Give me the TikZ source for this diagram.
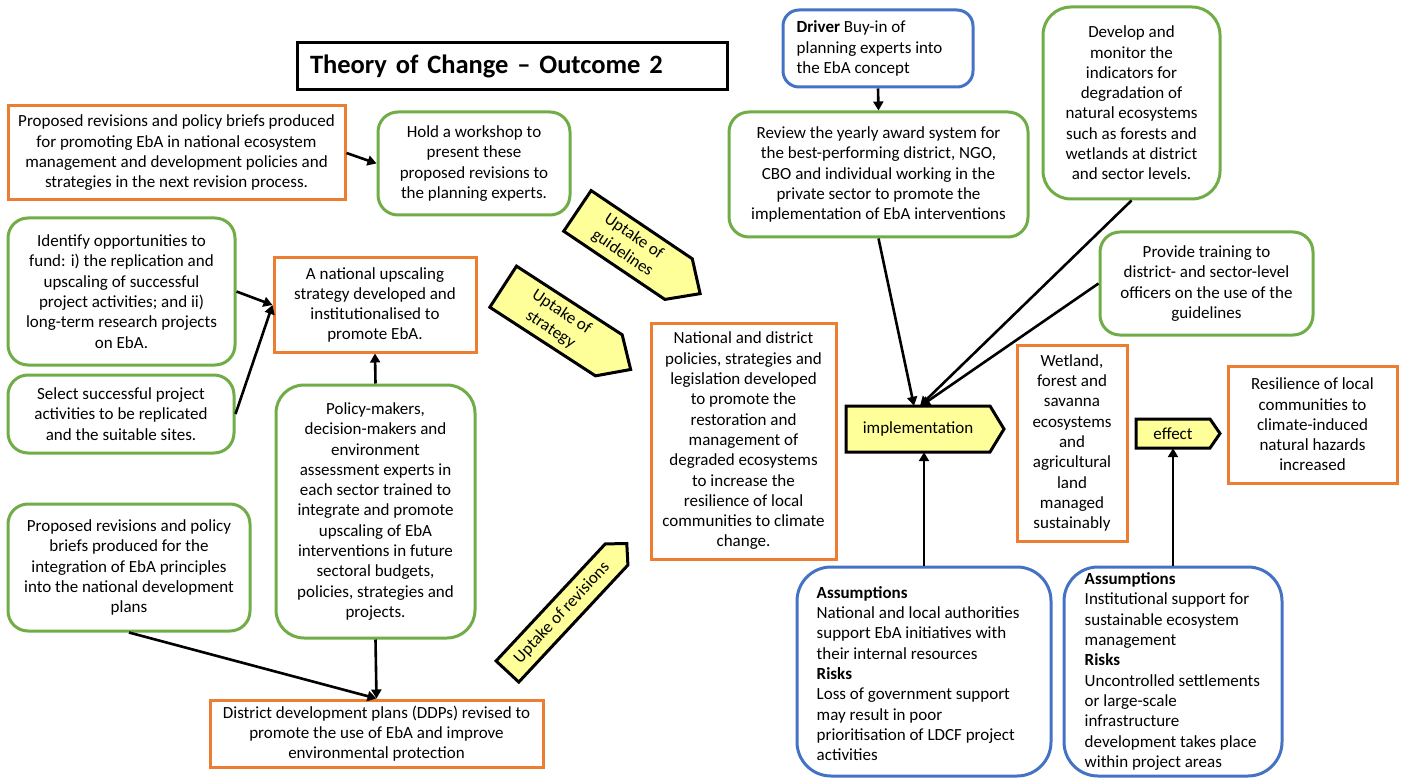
\documentclass[tikz,border=0pt]{standalone}
\usepackage{fontspec}
\setmainfont{Carlito}
\usetikzlibrary{arrows.meta,calc}

\definecolor{boxorange}{RGB}{237,125,49}
\definecolor{boxgreen}{RGB}{112,173,71}
\definecolor{boxblue}{RGB}{68,114,196}
\definecolor{sigyellow}{RGB}{255,255,153}

% rotated yellow "uptake" pointer: name, centre x, centre y, angle, body length, width, tip length, text
\newcommand\drawuptake[8]{%
  \begin{scope}[shift={(#2,#3)}, rotate=#4]
    \filldraw[sigshape] ({-0.5*#5pt},{0.5*#6pt}) -- ({0.5*#5pt},{0.5*#6pt})
      -- ({0.5*#5pt+#7pt},0pt) -- ({0.5*#5pt},{-0.5*#6pt})
      -- ({-0.5*#5pt},{-0.5*#6pt}) -- cycle;
    \node[txt, transform shape] (#1) at (0pt,0pt) {#8};
  \end{scope}}

\begin{document}
\begin{tikzpicture}[x=1pt,y=-1pt,
  txt/.style={font=\fontsize{17}{20.3}\selectfont, align=center, inner sep=0pt},
  box/.style={txt, line width=3pt, fill=white},
  outcome/.style={box, draw=boxorange},
  activity/.style={box, draw=boxgreen, rounded corners=20pt},
  context/.style={box, draw=boxblue, rounded corners=28pt},
  sigshape/.style={fill=sigyellow, draw=black, line width=3pt, line join=miter},
  flow/.style={line width=2.6pt, -{Triangle[length=9pt,width=10pt]}},
]
\useasboundingbox (0,0) rectangle (1404,783);
\fill[white] (0,0) rectangle (1404,783);

% title
\node[draw=black, line width=3pt, minimum width=430pt, minimum height=47pt,
      inner xsep=13pt, text width=404pt, align=left,
      font=\fontsize{26.5}{30}\selectfont\bfseries] (title) at (512,66.5)
      {Theory of Change -- Outcome 2};

% left half
\node[outcome, minimum width=337pt, minimum height=94pt] (A) at (176.5,153)
  {Proposed revisions and policy briefs produced\\for promoting EbA in national ecosystem\\management and development policies and\\strategies in the next revision process.};
\node[activity, minimum width=192pt, minimum height=103pt] (B) at (474,163.5)
  {Hold a workshop to\\present these\\proposed revisions to\\the planning experts.};
\node[activity, minimum width=227pt, minimum height=147pt] (C) at (121.5,291.5)
  {Identify opportunities to\\fund: i) the replication and\\upscaling of successful\\project activities; and ii)\\long-term research projects\\on EbA.};
\node[outcome, minimum width=202pt, minimum height=94pt] (D) at (375,305)
  {A national upscaling\\strategy developed and\\institutionalised to\\promote EbA.};
\node[activity, minimum width=226pt, minimum height=78pt] (E) at (121,414)
  {Select successful project\\activities to be replicated\\and the suitable sites.};
\node[activity, minimum width=199pt, minimum height=253pt, rounded corners=28pt] (F) at (375.5,511.5)
  {Policy-makers,\\decision-makers and\\environment\\assessment experts in\\each sector trained to\\integrate and promote\\upscaling of EbA\\interventions in future\\sectoral budgets,\\policies, strategies and\\projects.};
\node[activity, minimum width=242pt, minimum height=127pt] (G) at (129,567.5)
  {Proposed revisions and policy\\briefs produced for the\\integration of EbA principles\\into the national development\\plans};
\node[outcome, minimum width=333pt, minimum height=67pt] (H) at (376.5,733.5)
  {District development plans (DDPs) revised to\\promote the use of EbA and improve\\environmental protection};
\node[outcome, minimum width=185pt, minimum height=236pt] (I) at (743.5,441)
  {National and district\\policies, strategies and\\legislation developed\\to promote the\\restoration and\\management of\\degraded ecosystems\\to increase the\\resilience of local\\communities to climate\\change.};

% uptake pointers
\drawuptake{upguide}{628}{245}{-34}{122}{49}{26}{Uptake of\\guidelines}
\drawuptake{upstrat}{556}{321}{-33}{126}{49}{26}{Uptake of\\strategy}
\drawuptake{uprevis}{562}{613}{47}{160}{31}{15}{Uptake of revisions}

% right half
\node[context, minimum width=190pt, minimum height=77pt, rounded corners=16pt] (J) at (878,48.5) {};
\node[txt, anchor=west, align=left] (Jtext) at ($(J.west)+(15,0)$)
  {\textbf{Driver} Buy-in of\\planning experts into\\the EbA concept};
\node[activity, minimum width=299pt, minimum height=125pt] (K) at (878.5,174.5)
  {Review the yearly award system for\\the best-performing district, NGO,\\CBO and individual working in the\\private sector to promote the\\implementation of EbA interventions};
\node[activity, minimum width=177pt, minimum height=192pt, rounded corners=28pt] (L) at (1131.5,103)
  {Develop and\\monitor the\\indicators for\\degradation of\\natural ecosystems\\such as forests and\\wetlands at district\\and sector levels.};
\node[activity, minimum width=213pt, minimum height=103pt] (M) at (1206.5,283.5)
  {Provide training to\\district- and sector-level\\officers on the use of the\\guidelines};
\node[outcome, minimum width=110pt, minimum height=196pt] (N) at (1072,443)
  {Wetland,\\forest and\\savanna\\ecosystems\\and\\agricultural\\land\\managed\\sustainably};
\node[outcome, minimum width=169pt, minimum height=117pt] (O) at (1312.5,424.5)
  {Resilience of local\\communities to\\climate-induced\\natural hazards\\increased};

\node[context, minimum width=254pt, minimum height=209pt, rounded corners=34pt] (P) at (924,671.5) {};
\node[txt, anchor=west, align=left] (Ptext) at ($(P.west)+(21,2)$)
  {\textbf{Assumptions}\\National and local authorities\\support EbA initiatives with\\their internal resources\\\textbf{Risks}\\Loss of government support\\may result in poor\\prioritisation of LDCF project\\activities};
\node[context, minimum width=218pt, minimum height=209pt, rounded corners=34pt] (Q) at (1173,671.5) {};
\node[txt, anchor=west, align=left] (Qtext) at ($(Q.west)+(22,0)$)
  {\textbf{Assumptions}\\Institutional support for\\sustainable ecosystem\\management\\\textbf{Risks}\\Uncontrolled settlements\\or large-scale\\infrastructure\\development takes place\\within project areas};

% implementation and effect pointers
\filldraw[sigshape] (846,406) -- (990,406) -- (1004,429) -- (990,452) -- (846,452) -- cycle;
\node[txt, minimum width=144pt, minimum height=46pt] (impl) at (918,429) {implementation};
\filldraw[sigshape] (1136,419) -- (1210,419) -- (1220,433.5) -- (1210,448) -- (1136,448) -- cycle;
\node[txt, minimum width=74pt, minimum height=29pt] (effect) at (1173,433.5) {effect};

% connectors
\draw[flow] (A.east) -- (B.west);
\draw[flow] (C.east) -- (D.west);
\draw[flow] (E.east) -- (D.west);
\draw[flow] (F.north) -- (D.south);
\draw[flow] (F.south) -- (H.north);
\draw[flow] (G.south) -- (H.north);
\draw[flow] (J.south) -- (K.north);
\draw[flow] (K.south) -- ($(impl.north)+(-4,0)$);
\draw[flow] (L.south) -- ($(impl.north)+(2,0)$);
\draw[flow] (M.west) -- ($(impl.north)+(3,0)$);
\draw[flow] (P.north) -- (P.north |- impl.south);
\draw[flow] (Q.north) -- (effect.south);
\end{tikzpicture}
\end{document}
